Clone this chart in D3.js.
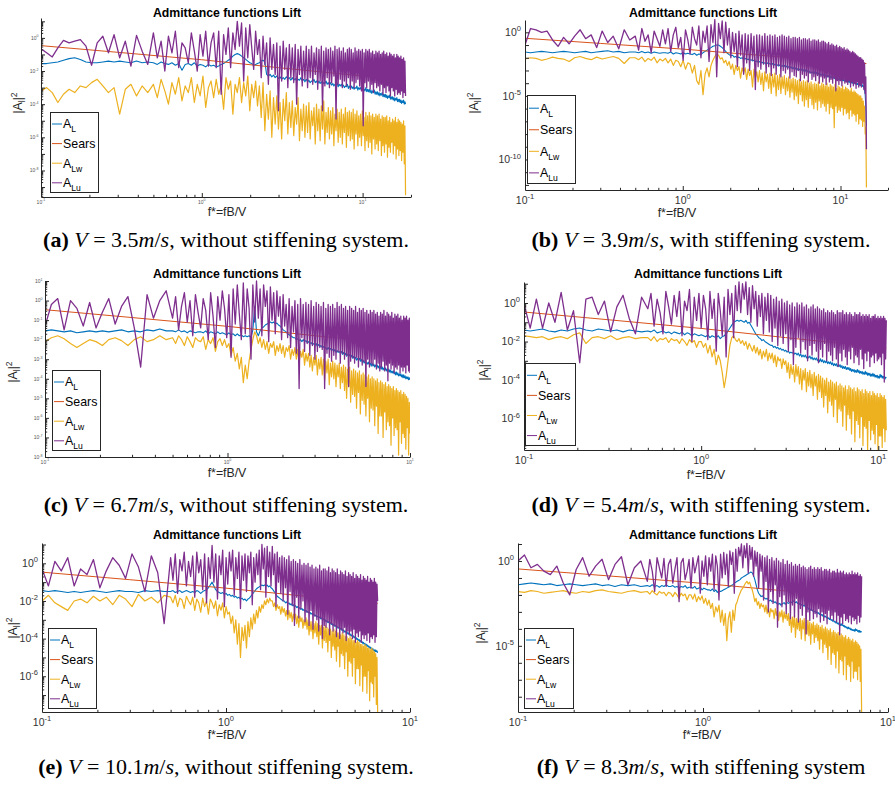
<!DOCTYPE html>
<html>
<head>
<meta charset="utf-8">
<title>Admittance functions Lift</title>
<script src="https://cdn.jsdelivr.net/npm/d3@7"></script>
<style>
  html, body { margin: 0; padding: 0; background: #fff; }
  svg { display: block; }
  text { font-family: "Liberation Sans", Arial, Helvetica, sans-serif; }
  text.cap { font-family: "Liberation Serif", "Times New Roman", serif; }
</style>
</head>
<body>
<svg id="fig" width="895" height="785"></svg>
<script>
// ---------------- data ----------------
const panelKeys  = ["a", "b", "c", "d", "e", "f"];
const windSpeeds = ["3.5", "3.9", "6.7", "5.4", "10.1", "8.3"];
const setups     = ["without stiffening system.", "with stiffening system.",
                    "without stiffening system.", "with stiffening system.",
                    "without stiffening system.", "with stiffening system"];
// highest reduced frequency f* = fB/V of each spectrum
const lastFreq   = [18.5, 14.6, 10, 11.1, 6.67, 7.2];
const legendNames = [["A", "L"], ["Sears", ""], ["A", "Lw"], ["A", "Lu"]];

// Sears function |S|^2 : [f*, value]
const searsA = [[0.1, 0.34], [0.3, 0.135], [1, 0.048], [3, 0.016], [10, 0.005], [18.5, 0.0027]];
const searsB = [[0.1, 0.34], [0.3, 0.135], [1, 0.048], [3, 0.016], [10, 0.005], [14.6, 0.0035]];
const searsC = [[0.1, 0.34], [0.3, 0.135], [1, 0.048], [3, 0.016], [10, 0.005]];
const searsD = [[0.1, 0.34], [0.3, 0.135], [1, 0.048], [3, 0.016], [10, 0.005], [11.1, 0.0045]];
const searsE = [[0.1, 0.34], [0.3, 0.135], [1, 0.048], [3, 0.016], [6.67, 0.0074]];
const searsF = [[0.1, 0.34], [0.3, 0.135], [1, 0.048], [3, 0.016], [7.2, 0.0069]];

// Measured admittances as log10(|A|^2), one value per frequency bin:
// 20 bins on 0.1..0.5, then 180 bins up to the last frequency
const AL_a = [
-1.55,-1.55,-1.5,-1.45,-1.35,-1.25,-1.2,-1.3,-1.45,-1.5,
-1.5,-1.45,-1.4,-1.45,-1.4,-1.45,-1.5,-1.4,-1.5,-1.45,
-1.5,-1.6,-1.45,-1.55,-1.6,-1.5,-1.65,-1.55,-1.95,-1.6,
-1.55,-1.65,-1.5,-1.7,-1.6,-1.65,-1.75,-1.6,-1.7,-1.65,
-1.75,-1.7,-1.6,-1.55,-1.45,-1.35,-1.25,-1.1,-1.0,-0.95,
-1.0,-1.1,-1.2,-1.3,-1.4,-1.5,-1.55,-1.65,-1.6,-1.55,
-1.5,-1.4,-1.35,-1.45,-2.2,-2.3,-2.2,-2.35,-2.25,-2.4,
-2.3,-2.45,-2.35,-2.5,-2.4,-2.5,-2.35,-2.45,-2.4,-2.55,
-2.4,-2.55,-2.45,-2.6,-2.5,-2.55,-2.4,-2.6,-2.5,-2.65,
-2.5,-2.65,-2.55,-2.7,-2.6,-2.65,-2.5,-2.7,-2.6,-2.75,
-2.6,-2.75,-2.65,-2.8,-2.7,-2.75,-2.6,-2.8,-2.7,-2.85,
-2.7,-2.85,-2.75,-2.9,-2.8,-2.85,-2.7,-2.95,-2.8,-2.9,
-2.8,-2.95,-2.85,-3.0,-2.9,-2.95,-2.8,-3.05,-2.9,-3.0,
-2.9,-3.05,-2.95,-3.1,-3.0,-3.05,-2.9,-3.15,-3.0,-3.1,
-3.0,-3.15,-3.05,-3.2,-3.1,-3.2,-3.0,-3.25,-3.1,-3.25,
-3.1,-3.3,-3.15,-3.35,-3.2,-3.3,-3.15,-3.4,-3.25,-3.4,
-3.25,-3.45,-3.3,-3.5,-3.35,-3.45,-3.3,-3.55,-3.4,-3.55,
-3.4,-3.6,-3.45,-3.65,-3.5,-3.6,-3.45,-3.7,-3.55,-3.7,
-3.55,-3.75,-3.6,-3.8,-3.65,-3.75,-3.6,-3.85,-3.7,-3.85,
-3.7,-3.9,-3.75,-3.95,-3.8,-3.9,-3.75,-4.0,-3.85,-4.0];
const ALw_a = [
-3.2,-3.0,-3.3,-3.9,-3.4,-3.1,-3.3,-2.9,-3.0,-2.7,
-2.5,-2.9,-3.3,-3.0,-4.6,-3.1,-2.8,-3.5,-2.9,-3.3,
-2.8,-3.6,-2.5,-3.2,-4.0,-2.7,-3.4,-2.4,-3.8,-2.9,
-3.3,-2.4,-3.9,-2.8,-3.5,-2.3,-4.2,-3.0,-2.6,-3.6,
-2.5,-3.4,-2.9,-4.3,-2.4,-3.1,-2.6,-4.6,-2.8,-3.3,
-2.4,-3.9,-2.7,-3.5,-2.3,-4.4,-2.8,-3.6,-2.6,-4.1,
-2.9,-4.8,-2.7,-5.6,-3.4,-4.9,-3.2,-6.0,-3.6,-5.2,
-3.5,-5.5,-3.9,-6.1,-3.7,-5.0,-3.3,-5.8,-3.9,-5.4,
-3.8,-5.9,-4.2,-5.2,-3.6,-6.2,-4.3,-5.6,-4.0,-6.0,
-4.1,-5.7,-3.9,-6.1,-4.4,-5.3,-4.2,-6.4,-4.0,-5.6,
-4.3,-6.2,-4.1,-5.5,-3.8,-6.4,-4.5,-5.7,-4.2,-6.1,
-4.4,-5.8,-4.2,-6.5,-4.6,-5.6,-4.3,-6.3,-4.5,-6.0,
-4.3,-6.4,-4.6,-5.7,-4.2,-6.6,-4.5,-5.9,-4.4,-6.2,
-4.5,-6.1,-4.3,-6.7,-4.6,-5.8,-4.4,-6.5,-4.7,-6.0,
-4.6,-6.5,-4.4,-5.9,-4.8,-6.8,-4.5,-6.2,-4.7,-6.6,
-4.5,-6.3,-4.7,-7.0,-4.6,-6.1,-4.8,-6.7,-4.6,-6.4,
-4.7,-6.8,-4.6,-6.2,-4.9,-7.1,-4.7,-6.5,-4.8,-6.9,
-4.8,-6.4,-4.7,-7.2,-5.0,-6.6,-4.8,-6.9,-5.1,-6.3,
-4.9,-7.0,-5.0,-6.5,-4.8,-7.3,-5.1,-6.7,-4.9,-7.1,
-5.0,-6.8,-5.1,-7.4,-5.2,-6.9,-5.0,-7.6,-5.3,-9.5];
const ALu_a = [
-0.65,-0.9,-1.15,-0.6,-0.15,-0.3,-0.2,-0.1,-0.5,-1.65,
-0.3,0.1,-0.9,0.2,-1.2,-0.2,-1.7,0.15,-0.8,-1.6,
0.3,-1.2,-0.2,-2.0,0.1,-0.9,0.4,-1.8,-0.3,-0.6,
-1.5,0.3,-0.8,-2.0,0.2,-1.1,0.4,-1.7,-0.3,0.3,
-1.8,0.4,-3.4,0.2,-1.0,0.6,-1.8,0.3,-0.7,1.0,
-0.5,0.9,-2.6,0.6,-1.2,0.8,-0.6,-1.9,0.4,-1.0,
-0.1,-2.4,0.1,-1.6,-0.3,-2.8,0.0,-1.9,-0.4,-2.2,
-0.3,-4.4,-0.5,-2.6,-0.2,-1.9,-0.6,-3.0,-0.4,-2.4,
-0.6,-2.7,-0.4,-4.0,-0.7,-2.2,-0.5,-2.9,-0.8,-2.5,
-0.5,-3.0,-0.7,-2.4,-0.5,-2.8,-0.9,-2.2,-0.6,-3.1,
-0.7,-2.6,-0.5,-4.4,-0.8,-2.9,-0.6,-2.4,-0.7,-3.0,
-0.6,-2.7,-0.8,-2.3,-0.5,-4.9,-0.7,-2.8,-0.6,-2.5,
-0.8,-3.0,-0.6,-2.6,-0.9,-2.9,-0.7,-2.4,-0.6,-3.1,
-0.7,-2.6,-0.9,-3.0,-0.6,-2.7,-0.8,-2.5,-0.7,-2.9,
-0.8,-3.2,-0.7,-5.3,-0.9,-2.7,-0.7,-3.0,-0.8,-2.6,
-0.7,-3.1,-0.9,-2.8,-0.8,-3.3,-1.0,-2.7,-0.8,-3.0,
-0.9,-2.9,-0.8,-3.2,-1.0,-2.8,-0.9,-3.4,-0.8,-3.0,
-1.0,-3.3,-0.9,-2.9,-1.1,-3.2,-0.9,-3.5,-1.0,-3.0,
-1.1,-3.2,-1.0,-3.5,-1.2,-3.1,-1.0,-3.4,-1.1,-3.3,
-1.2,-3.4,-1.1,-3.2,-1.3,-3.6,-1.2,-3.3,-1.4,-3.5];

const AL_b = [
-1.55,-1.6,-1.55,-1.5,-1.55,-1.6,-1.55,-1.5,-1.55,-1.6,
-1.55,-1.5,-1.6,-1.55,-1.5,-1.45,-1.55,-1.5,-1.6,-1.55,
-1.55,-1.6,-1.5,-1.6,-1.55,-1.65,-1.55,-1.6,-1.65,-1.6,
-1.6,-1.65,-1.55,-1.7,-1.6,-1.65,-1.7,-1.6,-1.7,-1.65,
-1.7,-1.75,-1.65,-1.8,-1.7,-1.75,-1.6,-1.5,-1.4,-1.3,
-1.2,-1.1,-1.05,-1.0,-1.0,-1.1,-1.2,-1.35,-1.5,-1.65,
-1.75,-1.85,-1.8,-1.95,-1.9,-2.0,-1.95,-2.05,-2.0,-2.1,
-2.05,-2.15,-2.1,-2.2,-2.15,-2.25,-2.2,-2.3,-2.25,-2.35,
-2.3,-2.4,-2.35,-2.45,-2.4,-2.5,-2.4,-2.5,-2.45,-2.55,
-2.45,-2.6,-2.5,-2.6,-2.55,-2.65,-2.55,-2.7,-2.6,-2.7,
-2.6,-2.75,-2.65,-2.8,-2.7,-2.8,-2.7,-2.85,-2.75,-2.9,
-2.8,-2.95,-2.85,-3.0,-2.9,-3.0,-2.9,-3.05,-2.95,-3.1,
-2.95,-3.1,-3.0,-3.15,-3.05,-3.2,-3.1,-3.2,-3.1,-3.25,
-3.1,-3.3,-3.15,-3.3,-3.2,-3.35,-3.25,-3.4,-3.3,-3.4,
-3.3,-3.45,-3.35,-3.5,-3.4,-3.5,-3.4,-3.55,-3.45,-3.6,
-3.45,-3.6,-3.5,-3.65,-3.55,-3.65,-3.55,-3.7,-3.6,-3.75,
-3.6,-3.75,-3.65,-3.8,-3.7,-3.8,-3.7,-3.85,-3.75,-3.9,
-3.75,-3.9,-3.8,-3.95,-3.85,-3.95,-3.85,-4.0,-3.9,-4.05,
-3.9,-4.05,-3.95,-4.1,-4.0,-4.1,-4.0,-4.15,-4.05,-4.2,
-4.05,-4.2,-4.1,-4.25,-4.2,-4.35,-4.5,-4.9,-5.8,-7.4];
const ALw_b = [
-2.1,-2.0,-2.05,-2.2,-2.1,-1.95,-2.05,-2.1,-2.3,-2.0,
-1.9,-2.05,-2.15,-1.95,-2.1,-2.0,-1.9,-2.05,-2.45,-2.0,
-2.0,-2.15,-1.95,-2.3,-2.05,-2.2,-1.95,-2.4,-2.1,-2.25,
-2.05,-2.4,-2.1,-2.6,-2.2,-2.3,-2.7,-2.2,-2.9,-2.4,
-2.5,-3.2,-2.6,-3.8,-4.1,-3.0,-4.9,-3.3,-2.8,-3.5,
-2.6,-2.2,-1.9,-1.7,-1.8,-2.1,-2.0,-2.4,-2.2,-2.6,
-2.3,-2.9,-2.5,-3.3,-2.6,-3.0,-2.7,-3.6,-2.8,-3.2,
-2.8,-3.7,-2.9,-3.4,-3.0,-4.3,-2.9,-3.6,-3.1,-3.9,
-3.0,-4.1,-3.2,-4.6,-3.1,-3.9,-3.3,-4.4,-3.2,-4.8,
-3.3,-4.3,-3.2,-5.0,-3.4,-4.5,-3.3,-4.8,-3.5,-4.4,
-3.4,-4.9,-3.6,-4.6,-3.5,-5.1,-3.7,-4.7,-3.6,-5.3,
-3.7,-5.0,-3.8,-5.6,-3.7,-4.9,-3.9,-5.4,-3.8,-5.8,
-3.9,-5.3,-3.8,-5.9,-4.0,-5.2,-3.9,-5.7,-4.1,-6.0,
-4.0,-5.5,-4.1,-6.1,-3.9,-5.4,-4.2,-5.9,-4.0,-5.6,
-4.1,-5.8,-4.2,-6.2,-4.0,-5.6,-4.3,-6.4,-4.1,-5.9,
-4.2,-6.0,-4.3,-7.5,-4.1,-5.8,-4.4,-6.3,-4.2,-6.1,
-4.3,-6.2,-4.4,-5.9,-4.2,-6.5,-4.5,-6.0,-4.3,-6.4,
-4.4,-6.3,-4.5,-6.8,-4.6,-6.1,-4.4,-6.6,-4.7,-6.4,
-4.6,-6.5,-4.7,-7.0,-4.8,-6.4,-4.9,-7.2,-5.0,-6.8,
-5.0,-6.9,-5.2,-7.4,-5.4,-7.0,-5.8,-8.0,-7.5,-12.2];
const ALu_b = [
-1.0,0.3,0.2,0.0,0.1,-0.6,-1.1,-0.4,-0.9,-0.3,
0.2,-0.5,-0.2,-1.2,0.1,-0.8,-0.3,-1.3,0.2,-0.6,
-0.3,-1.4,0.3,-0.7,-0.2,-1.6,0.1,-0.5,-1.1,0.2,
-0.9,0.3,-1.5,-0.2,0.4,-1.2,-0.4,-2.2,0.2,-0.6,
-1.7,0.4,-0.5,-1.0,0.5,-2.0,0.1,-0.8,0.5,-2.3,
0.6,-0.8,1.0,-3.5,0.7,-0.5,0.9,-1.6,0.8,-1.0,
0.3,-2.0,0.0,-1.5,-0.1,-2.7,0.1,-1.8,-0.2,-3.3,
-0.1,-2.4,-0.2,-3.0,-0.1,-2.2,-0.3,-4.5,-0.2,-2.7,
-0.2,-2.9,-0.3,-2.5,-0.1,-3.2,-0.3,-2.7,-0.2,-3.4,
-0.3,-2.8,-0.2,-3.3,-0.4,-2.6,-0.3,-3.5,-0.2,-3.0,
-0.3,-3.2,-0.4,-2.9,-0.3,-3.6,-0.5,-3.1,-0.4,-3.4,
-0.4,-3.5,-0.5,-3.0,-0.4,-3.8,-0.6,-3.3,-0.5,-3.6,
-0.5,-3.4,-0.6,-3.9,-0.5,-3.2,-0.7,-3.7,-0.6,-3.5,
-0.6,-3.8,-0.7,-3.4,-0.6,-4.0,-0.8,-3.5,-0.7,-3.9,
-0.7,-3.6,-0.8,-4.1,-0.9,-3.5,-0.8,-3.9,-1.0,-3.7,
-0.9,-4.0,-1.0,-3.6,-1.1,-4.6,-1.0,-3.8,-1.2,-4.1,
-1.1,-3.8,-1.2,-4.2,-1.3,-3.7,-1.2,-4.0,-1.4,-3.9,
-1.3,-4.1,-1.4,-3.8,-1.5,-4.3,-1.6,-3.9,-1.5,-4.2,
-1.6,-4.0,-1.7,-4.4,-1.8,-3.9,-1.9,-4.3,-2.0,-4.1,
-2.0,-4.3,-2.1,-4.0,-2.2,-4.5,-2.4,-4.8,-3.5,-9.2];

const AL_c = [
-1.55,-1.5,-1.55,-1.6,-1.55,-1.65,-1.6,-1.55,-1.6,-1.55,
-1.6,-1.55,-1.5,-1.6,-1.55,-1.6,-1.5,-1.55,-1.45,-1.55,
-1.55,-1.6,-1.5,-1.6,-1.55,-1.65,-1.55,-1.6,-1.65,-1.6,
-1.6,-1.65,-1.55,-1.7,-1.6,-1.65,-1.7,-1.6,-1.7,-1.65,
-1.7,-1.75,-1.65,-1.75,-1.7,-1.8,-1.7,-1.8,-1.75,-1.85,
-1.8,-1.85,-1.8,-1.9,-1.5,-0.3,-1.6,-1.8,-1.55,-1.4,
-1.35,-1.25,-1.2,-1.15,-1.1,-1.15,-1.1,-1.2,-1.15,-1.25,
-1.3,-1.4,-1.5,-1.55,-1.6,-1.7,-1.75,-1.8,-1.85,-1.9,
-1.9,-2.0,-1.95,-2.05,-2.0,-2.1,-2.0,-2.1,-2.05,-2.15,
-2.1,-2.2,-2.15,-2.25,-2.2,-2.3,-2.2,-2.35,-2.25,-2.35,
-2.3,-2.4,-2.35,-2.45,-2.4,-2.5,-2.4,-2.5,-2.45,-2.55,
-2.5,-2.6,-2.5,-2.65,-2.55,-2.65,-2.6,-2.7,-2.6,-2.75,
-2.65,-2.8,-2.7,-2.85,-2.75,-2.85,-2.75,-2.9,-2.8,-2.95,
-2.85,-3.0,-2.9,-3.05,-2.95,-3.05,-2.95,-3.1,-3.0,-3.15,
-3.05,-3.2,-3.1,-3.25,-3.15,-3.25,-3.15,-3.3,-3.2,-3.35,
-3.2,-3.35,-3.25,-3.4,-3.3,-3.4,-3.3,-3.45,-3.35,-3.5,
-3.35,-3.5,-3.4,-3.55,-3.45,-3.55,-3.45,-3.6,-3.5,-3.65,
-3.5,-3.65,-3.55,-3.7,-3.6,-3.7,-3.6,-3.75,-3.65,-3.8,
-3.65,-3.8,-3.7,-3.85,-3.75,-3.85,-3.75,-3.9,-3.8,-3.95,
-3.8,-3.95,-3.85,-4.0,-3.9,-4.0,-3.9,-4.05,-3.95,-4.05];
const ALw_c = [
-2.1,-1.9,-1.8,-1.95,-2.2,-2.4,-2.2,-2.0,-2.1,-2.3,
-2.0,-1.9,-2.05,-2.3,-2.0,-1.85,-2.1,-2.0,-1.8,-2.0,
-1.9,-2.2,-1.8,-2.0,-2.3,-1.85,-2.1,-2.4,-1.9,-2.05,
-2.1,-1.85,-2.5,-2.0,-2.2,-1.9,-2.6,-2.1,-1.95,-2.3,
-2.0,-2.4,-2.2,-2.8,-2.4,-3.1,-2.7,-3.5,-2.9,-4.2,
-3.3,-4.0,-3.1,-2.5,-2.0,-1.6,-1.8,-2.2,-1.9,-2.4,
-2.0,-2.5,-2.1,-2.7,-2.2,-2.4,-2.1,-2.8,-2.3,-2.6,
-2.2,-2.7,-2.3,-2.9,-2.4,-2.6,-2.3,-3.0,-2.5,-2.8,
-2.4,-3.0,-2.5,-3.2,-2.6,-2.9,-2.5,-3.3,-2.7,-3.1,
-2.7,-3.4,-2.8,-3.6,-2.9,-3.3,-2.8,-3.8,-3.0,-3.5,
-2.9,-3.8,-3.0,-4.1,-3.1,-3.7,-3.0,-4.3,-3.2,-3.9,
-3.1,-4.0,-3.2,-4.4,-3.3,-3.9,-3.2,-4.5,-3.4,-4.2,
-3.3,-4.6,-3.4,-5.0,-3.5,-4.4,-3.4,-5.2,-3.6,-4.8,
-3.5,-4.9,-3.6,-5.5,-3.7,-4.7,-3.6,-5.8,-3.8,-5.1,
-3.7,-5.3,-3.8,-5.9,-3.9,-5.0,-3.8,-6.2,-4.0,-5.5,
-3.9,-5.6,-4.0,-6.4,-4.1,-5.4,-4.0,-6.8,-4.2,-5.9,
-4.1,-5.9,-4.2,-7.0,-4.3,-5.7,-4.2,-6.6,-4.4,-6.2,
-4.3,-6.4,-4.4,-7.4,-4.5,-6.0,-4.4,-6.9,-4.6,-6.5,
-4.5,-6.6,-4.6,-7.9,-4.7,-6.2,-4.6,-7.3,-4.8,-6.8,
-4.7,-7.0,-4.8,-7.6,-4.9,-6.5,-5.0,-7.9,-5.2,-6.8];
const ALu_c = [
-1.3,-0.2,0.1,-1.5,0.0,-0.4,-1.3,-0.1,-1.4,-0.6,
0.1,-1.2,-0.3,0.2,-1.4,-3.4,0.3,-0.9,0.0,0.5,
-0.9,0.2,-1.5,-0.3,0.4,-1.1,0.0,-1.8,0.3,-0.6,
-1.4,0.1,-0.5,-2.0,0.4,-0.8,-2.4,0.2,-1.0,0.5,
-0.4,-1.9,0.3,-2.9,0.6,-1.2,0.8,-0.7,-2.0,0.9,
-1.7,0.6,-0.4,-3.0,0.8,-1.1,1.0,-0.9,0.6,-1.8,
0.8,-0.3,0.5,-2.1,0.7,-1.0,0.4,-1.7,0.5,-0.8,
0.2,-2.0,0.3,-1.3,-0.2,-1.9,0.1,-2.4,-0.3,-1.6,
0.0,-2.7,-0.2,-4.5,0.1,-1.9,-0.2,-2.6,-0.1,-2.2,
-0.2,-2.8,0.0,-2.3,-0.3,-3.0,-0.1,-2.6,-0.2,-2.4,
-0.3,-2.5,-0.1,-4.5,-0.4,-2.7,-0.2,-2.9,-0.3,-3.1,
-0.2,-2.8,-0.4,-3.0,-0.1,-2.6,-0.3,-3.2,-0.2,-2.7,
-0.4,-3.0,-0.3,-2.8,-0.5,-4.4,-0.3,-3.1,-0.4,-2.9,
-0.5,-3.2,-0.3,-2.9,-0.6,-3.4,-0.4,-3.0,-0.5,-3.3,
-0.4,-3.1,-0.6,-4.4,-0.5,-3.0,-0.7,-3.4,-0.5,-3.2,
-0.6,-3.3,-0.5,-3.0,-0.7,-3.5,-0.6,-3.2,-0.8,-3.6,
-0.6,-3.4,-0.7,-3.1,-0.5,-3.6,-0.8,-3.3,-0.6,-4.1,
-0.7,-3.2,-0.8,-3.5,-0.6,-3.3,-0.9,-3.7,-0.7,-3.4,
-0.8,-3.5,-0.7,-3.3,-0.9,-3.7,-0.8,-3.4,-1.0,-3.6,
-0.8,-3.4,-0.9,-3.7,-0.8,-3.3,-1.0,-3.6,-0.9,-3.7];

const AL_d = [
-1.4,-1.45,-1.4,-1.35,-1.45,-1.5,-1.4,-1.45,-1.35,-1.3,
-1.4,-1.45,-1.35,-1.4,-1.45,-1.4,-1.5,-1.4,-1.45,-1.5,
-1.45,-1.5,-1.4,-1.55,-1.5,-1.45,-1.55,-1.5,-1.6,-1.5,
-1.55,-1.6,-1.5,-1.65,-1.55,-1.6,-1.7,-1.6,-1.65,-1.7,
-1.65,-1.7,-1.75,-1.65,-1.8,-1.7,-1.75,-1.8,-1.7,-1.85,
-1.75,-1.7,-1.6,-1.45,-1.3,-1.15,-1.0,-0.95,-0.9,-0.95,
-0.9,-0.95,-1.0,-0.9,-1.05,-1.0,-1.15,-1.3,-1.45,-1.6,
-1.7,-1.8,-1.85,-1.95,-1.9,-2.0,-2.05,-2.1,-2.15,-2.2,
-2.2,-2.3,-2.25,-2.35,-2.3,-2.4,-2.35,-2.45,-2.4,-2.5,
-2.45,-2.55,-2.5,-2.6,-2.55,-2.6,-2.55,-2.65,-2.6,-2.7,
-2.6,-2.75,-2.65,-2.8,-2.7,-2.8,-2.7,-2.85,-2.75,-2.85,
-2.75,-2.9,-2.8,-2.95,-2.85,-2.95,-2.85,-3.0,-2.9,-3.05,
-2.9,-3.05,-2.95,-3.1,-3.0,-3.1,-3.0,-3.15,-3.05,-3.15,
-3.05,-3.2,-3.1,-3.25,-3.15,-3.25,-3.15,-3.3,-3.2,-3.3,
-3.2,-3.35,-3.25,-3.4,-3.3,-3.4,-3.3,-3.45,-3.35,-3.45,
-3.35,-3.5,-3.4,-3.55,-3.45,-3.55,-3.45,-3.6,-3.5,-3.6,
-3.45,-3.6,-3.5,-3.65,-3.55,-3.65,-3.55,-3.7,-3.6,-3.7,
-3.55,-3.7,-3.6,-3.75,-3.65,-3.75,-3.65,-3.8,-3.7,-3.8,
-3.65,-3.8,-3.7,-3.85,-3.75,-3.85,-3.75,-3.9,-3.8,-3.9,
-3.7,-3.85,-3.75,-3.9,-3.8,-3.9,-3.8,-3.95,-3.85,-3.9];
const ALw_d = [
-1.7,-1.75,-1.8,-1.75,-1.9,-1.8,-1.75,-1.85,-1.65,-1.55,
-2.1,-1.8,-1.75,-1.85,-1.7,-1.9,-1.8,-1.75,-1.85,-1.8,
-1.8,-1.95,-1.75,-2.0,-1.85,-1.9,-1.8,-2.05,-1.85,-1.95,
-1.9,-2.1,-1.85,-2.0,-2.2,-1.9,-2.05,-1.95,-2.3,-2.0,
-2.0,-2.3,-2.1,-2.6,-2.2,-2.8,-2.4,-3.2,-2.7,-3.0,
-3.6,-4.4,-3.8,-3.0,-2.2,-1.8,-1.7,-1.9,-2.0,-1.85,
-2.1,-1.95,-2.2,-2.0,-2.4,-2.1,-2.3,-2.5,-2.2,-2.6,
-2.3,-2.7,-2.4,-2.9,-2.5,-2.8,-2.4,-3.0,-2.6,-2.9,
-2.6,-3.1,-2.7,-3.3,-2.8,-3.0,-2.9,-3.4,-2.9,-3.2,
-3.0,-3.6,-3.1,-3.9,-3.2,-3.7,-3.3,-4.1,-3.2,-3.8,
-3.3,-4.2,-3.4,-4.5,-3.5,-4.0,-3.4,-4.6,-3.6,-4.3,
-3.5,-4.4,-3.7,-4.8,-3.6,-4.3,-3.8,-5.0,-3.7,-4.6,
-3.8,-4.9,-3.9,-5.4,-4.0,-4.8,-3.9,-5.7,-4.1,-5.1,
-4.0,-5.3,-4.1,-5.9,-4.2,-5.0,-4.1,-6.2,-4.3,-5.5,
-4.2,-5.6,-4.3,-6.4,-4.4,-5.3,-4.3,-6.6,-4.5,-5.8,
-4.3,-6.0,-4.4,-6.8,-4.5,-5.6,-4.4,-7.2,-4.6,-6.1,
-4.4,-6.3,-4.5,-7.0,-4.6,-5.9,-4.5,-7.4,-4.7,-6.4,
-4.5,-6.5,-4.6,-7.7,-4.7,-6.1,-4.6,-7.1,-4.8,-6.6,
-4.6,-6.8,-4.7,-7.3,-4.8,-6.3,-4.7,-7.6,-4.9,-6.9,
-4.7,-6.9,-4.8,-7.5,-4.9,-6.5,-4.8,-7.2,-5.0,-6.6];
const ALu_d = [
-0.05,-1.3,0.2,-1.3,0.0,-1.0,0.55,-1.4,-0.4,-3.1,
0.2,0.3,-0.6,0.1,-1.5,-0.2,0.4,-0.8,-1.6,0.3,
-0.3,0.5,-1.2,0.2,-0.5,-1.6,0.6,-0.2,-1.1,0.4,
-0.7,0.6,-1.7,0.1,-0.4,0.7,-2.0,0.3,-0.9,0.5,
-1.3,0.4,-0.3,-1.9,0.6,-0.8,0.2,-2.5,0.5,-0.4,
-1.7,0.3,-2.8,0.7,-0.6,0.5,-1.8,0.9,-0.4,1.1,
-0.5,1.0,0.2,1.1,-0.6,0.8,-1.0,0.9,-0.3,0.6,
-1.2,0.4,-0.7,0.5,-1.6,0.3,-0.9,0.5,-1.5,0.4,
-2.0,0.2,-1.3,0.3,-2.2,0.1,-1.7,0.2,-2.1,0.0,
-1.6,0.1,-2.5,-0.1,-1.9,0.0,-3.2,-0.2,-2.3,0.0,
-1.8,-0.1,-2.6,0.0,-2.0,-0.2,-2.4,-0.1,-3.0,-0.3,
-2.2,-0.2,-2.7,-0.1,-2.1,-0.3,-2.5,-0.2,-3.1,-0.3,
-2.4,-0.4,-2.8,-0.3,-2.1,-0.5,-3.0,-0.4,-2.5,-0.5,
-2.7,-0.4,-3.0,-0.5,-2.3,-0.6,-2.9,-0.4,-3.3,-0.5,
-2.6,-0.5,-3.0,-0.4,-2.4,-0.6,-2.8,-0.5,-3.2,-0.6,
-2.5,-0.5,-2.9,-0.6,-2.3,-0.7,-3.1,-0.5,-2.7,-0.6,
-2.8,-0.6,-3.2,-0.5,-2.4,-0.7,-2.9,-0.6,-3.4,-0.7,
-2.6,-0.6,-3.0,-0.7,-2.5,-0.6,-3.3,-0.8,-2.8,-0.7,
-2.7,-0.7,-3.1,-0.6,-2.6,-0.8,-3.0,-0.7,-2.9,-0.8,
-2.8,-0.7,-3.2,-0.8,-2.6,-0.7,-4.1,-0.8,-2.9,-0.9];

const AL_e = [
-1.45,-1.5,-1.45,-1.5,-1.55,-1.5,-1.55,-1.5,-1.45,-1.5,
-1.55,-1.5,-1.45,-1.5,-1.5,-1.55,-1.45,-1.5,-1.45,-1.5,
-1.5,-1.45,-1.55,-1.5,-1.45,-1.55,-1.5,-1.45,-1.5,-1.55,
-1.5,-1.55,-1.45,-1.5,-1.6,-1.5,-1.45,-1.4,-1.3,-1.15,
-1.0,-1.2,-1.4,-1.5,-1.55,-1.6,-1.55,-1.65,-1.6,-1.7,
-1.65,-1.75,-1.7,-1.8,-1.75,-1.85,-1.8,-1.9,-1.85,-1.95,
-1.9,-2.0,-1.9,-1.85,-1.75,-1.65,-1.55,-1.45,-1.35,-1.3,
-1.25,-1.2,-1.15,-1.2,-1.15,-1.2,-1.15,-1.25,-1.2,-1.3,
-1.35,-1.45,-1.55,-1.65,-1.75,-1.8,-1.85,-1.9,-1.95,-2.0,
-2.0,-2.1,-2.05,-2.15,-2.1,-2.2,-2.15,-2.25,-2.2,-2.3,
-2.25,-2.35,-2.3,-2.4,-2.35,-2.45,-2.4,-2.5,-2.45,-2.55,
-2.5,-2.6,-2.55,-2.65,-2.6,-2.7,-2.65,-2.75,-2.7,-2.8,
-2.75,-2.85,-2.8,-2.9,-2.85,-2.95,-2.9,-3.0,-2.95,-3.05,
-3.0,-3.1,-3.05,-3.15,-3.1,-3.2,-3.15,-3.25,-3.2,-3.3,
-3.25,-3.35,-3.3,-3.4,-3.35,-3.45,-3.4,-3.5,-3.45,-3.55,
-3.5,-3.6,-3.55,-3.65,-3.6,-3.7,-3.65,-3.75,-3.7,-3.8,
-3.75,-3.85,-3.8,-3.9,-3.85,-3.95,-3.9,-4.0,-3.95,-4.05,
-4.0,-4.1,-4.05,-4.15,-4.1,-4.2,-4.15,-4.25,-4.2,-4.3,
-4.25,-4.35,-4.3,-4.4,-4.35,-4.45,-4.4,-4.5,-4.45,-4.55,
-4.5,-4.6,-4.55,-4.65,-4.6,-4.7,-4.6,-4.7,-4.65,-4.75];
const ALw_e = [
-2.0,-1.7,-2.1,-2.3,-2.5,-2.0,-1.9,-2.1,-1.75,-2.0,
-1.8,-2.2,-1.7,-1.9,-2.3,-1.65,-2.0,-1.8,-2.1,-1.7,
-1.8,-2.1,-1.7,-2.3,-1.85,-1.95,-2.4,-1.75,-2.0,-2.2,
-1.8,-2.5,-1.9,-2.1,-2.6,-1.85,-2.3,-2.0,-2.7,-1.9,
-2.1,-2.4,-2.0,-2.8,-2.2,-2.5,-2.1,-2.9,-2.3,-2.7,
-2.6,-3.2,-2.8,-3.7,-3.0,-4.3,-3.2,-5.0,-3.4,-4.1,
-3.3,-4.5,-3.1,-3.9,-2.9,-3.5,-2.7,-3.2,-2.5,-2.9,
-2.3,-2.6,-2.2,-2.4,-2.0,-2.2,-1.9,-2.1,-1.85,-2.0,
-2.0,-2.3,-2.1,-2.5,-2.2,-2.4,-2.3,-2.7,-2.3,-2.6,
-2.4,-2.8,-2.5,-3.0,-2.5,-2.9,-2.6,-3.1,-2.7,-3.0,
-2.7,-3.2,-2.8,-3.4,-2.8,-3.1,-2.9,-3.45,-3.0,-3.3,
-2.9,-3.5,-3.0,-3.8,-3.1,-3.6,-3.1,-4.0,-3.2,-3.7,
-3.1,-3.9,-3.2,-4.3,-3.3,-3.8,-3.3,-4.5,-3.4,-4.1,
-3.3,-4.2,-3.4,-4.7,-3.5,-4.1,-3.5,-5.0,-3.6,-4.4,
-3.5,-4.6,-3.6,-5.2,-3.7,-4.4,-3.7,-5.5,-3.8,-4.8,
-3.7,-4.9,-3.8,-5.6,-3.9,-4.7,-3.9,-6.0,-4.0,-5.2,
-3.9,-5.3,-4.0,-6.0,-4.1,-5.0,-4.1,-6.4,-4.2,-5.6,
-4.1,-5.6,-4.2,-6.5,-4.3,-5.4,-4.3,-6.8,-4.4,-6.0,
-4.3,-6.0,-4.4,-6.9,-4.5,-5.7,-4.5,-7.3,-4.6,-6.3,
-4.5,-6.4,-4.6,-7.1,-4.7,-6.0,-4.8,-7.5,-5.0,-7.9];
const ALu_e = [
-0.3,-1.2,0.1,-0.4,0.3,-1.2,-0.3,-0.6,0.2,-1.3,
-0.4,0.3,-0.1,-0.8,0.5,-0.2,-1.5,0.4,-0.5,-3.2,
0.3,-0.9,0.5,-1.6,0.2,-0.4,0.6,-1.2,0.1,-0.7,
0.4,-1.8,0.6,-0.5,0.2,-1.4,0.5,-2.1,0.3,-0.8,
0.95,-1.0,0.5,-1.9,0.4,-0.6,0.7,-2.3,0.3,-1.1,
0.6,-0.4,0.7,-1.7,0.3,-0.8,0.6,-2.4,0.4,-0.9,
0.5,-1.5,0.4,-0.5,0.6,-2.2,0.3,-1.0,0.5,-0.6,
0.7,-1.4,1.0,-0.3,0.8,-1.8,0.9,-0.7,0.6,-1.2,
0.9,-0.6,0.5,-2.3,0.6,-1.0,0.3,-1.6,0.4,-2.0,
0.3,-1.3,0.2,-2.7,0.4,-1.5,0.1,-2.2,0.2,-3.3,
0.1,-1.8,0.0,-2.9,0.2,-2.4,-0.1,-2.0,0.0,-3.1,
-0.1,-2.6,0.0,-3.3,-0.2,-2.5,-0.1,-3.5,-0.3,-2.8,
-0.2,-3.0,-0.3,-3.6,-0.1,-2.9,-0.4,-4.0,-0.3,-3.3,
-0.3,-3.4,-0.4,-3.1,-0.2,-3.8,-0.5,-3.2,-0.3,-3.6,
-0.4,-3.3,-0.5,-3.9,-0.3,-3.4,-0.6,-4.0,-0.4,-3.5,
-0.5,-3.7,-0.6,-3.4,-0.4,-4.1,-0.7,-3.6,-0.5,-3.8,
-0.6,-3.6,-0.7,-4.0,-0.5,-3.5,-0.8,-4.2,-0.6,-3.7,
-0.7,-3.9,-0.8,-3.6,-0.6,-4.2,-0.9,-3.8,-0.7,-4.0,
-0.8,-3.8,-0.9,-4.1,-0.7,-3.7,-1.0,-4.2,-0.8,-3.9,
-0.9,-4.0,-1.0,-3.8,-0.8,-4.2,-1.0,-3.9,-1.1,-2.0];

const AL_f = [
-1.4,-1.35,-1.3,-1.35,-1.4,-1.35,-1.45,-1.4,-1.35,-1.4,
-1.45,-1.4,-1.35,-1.45,-1.4,-1.5,-1.4,-1.45,-1.4,-1.5,
-1.45,-1.5,-1.4,-1.5,-1.45,-1.55,-1.45,-1.5,-1.4,-1.5,
-1.5,-1.45,-1.55,-1.5,-1.6,-1.5,-1.55,-1.45,-1.6,-1.55,
-1.55,-1.6,-1.5,-1.65,-1.6,-1.55,-1.7,-1.6,-1.65,-1.7,
-1.7,-1.75,-1.65,-1.8,-1.7,-1.85,-1.75,-1.8,-1.75,-1.7,
-1.65,-1.6,-1.55,-1.5,-1.45,-1.4,-1.3,-1.25,-1.2,-1.15,
-1.1,-1.0,-0.95,-0.9,-0.85,-0.8,-0.75,-0.7,-0.65,-0.7,
-0.85,-1.1,-1.4,-1.7,-1.9,-2.0,-2.1,-2.05,-2.15,-2.2,
-2.25,-2.2,-2.3,-2.35,-2.3,-2.4,-2.35,-2.45,-2.4,-2.5,
-2.45,-2.55,-2.5,-2.6,-2.55,-2.5,-2.45,-2.55,-2.5,-2.45,
-2.5,-2.45,-2.4,-2.45,-2.4,-2.35,-2.4,-2.45,-2.4,-2.5,
-2.45,-2.55,-2.5,-2.6,-2.55,-2.65,-2.6,-2.7,-2.65,-2.75,
-2.75,-2.85,-2.8,-2.9,-2.85,-2.95,-2.9,-3.0,-2.95,-3.05,
-3.0,-3.1,-3.05,-3.15,-3.1,-3.2,-3.15,-3.25,-3.2,-3.3,
-3.25,-3.35,-3.3,-3.4,-3.35,-3.45,-3.4,-3.5,-3.45,-3.55,
-3.5,-3.6,-3.55,-3.65,-3.6,-3.7,-3.65,-3.75,-3.7,-3.8,
-3.7,-3.8,-3.75,-3.85,-3.8,-3.9,-3.85,-3.95,-3.9,-4.0,
-3.9,-4.0,-3.95,-4.05,-4.0,-4.1,-4.05,-4.1,-4.05,-4.15,
-4.0,-4.1,-4.05,-4.15,-4.1,-4.2,-4.1,-4.2,-4.15,-4.2];
const ALw_f = [
-1.8,-1.85,-1.75,-1.8,-1.9,-1.85,-1.8,-1.75,-1.85,-1.9,
-1.8,-1.85,-1.75,-1.7,-1.8,-1.85,-1.9,-1.8,-1.75,-1.85,
-1.8,-1.95,-1.75,-1.9,-2.0,-1.8,-1.9,-1.85,-2.05,-1.85,
-1.9,-2.1,-1.85,-2.0,-2.2,-1.9,-2.05,-1.95,-2.3,-2.0,
-2.0,-2.25,-1.95,-2.4,-2.1,-2.3,-2.05,-2.5,-2.2,-2.6,
-2.3,-2.8,-2.5,-3.3,-2.7,-3.0,-2.6,-3.6,-2.9,-3.8,
-3.1,-4.7,-3.4,-3.0,-4.2,-2.9,-3.5,-2.6,-2.4,-2.1,
-1.9,-1.7,-1.6,-1.45,-1.3,-1.2,-1.35,-1.25,-1.5,-1.7,
-2.0,-2.4,-2.2,-2.6,-2.4,-2.8,-2.5,-2.7,-2.6,-3.0,
-2.6,-3.1,-2.7,-3.3,-2.8,-3.0,-2.9,-3.4,-2.8,-3.2,
-2.9,-3.5,-3.0,-3.3,-2.9,-3.6,-3.0,-3.4,-3.1,-3.5,
-3.1,-3.8,-3.2,-4.2,-3.3,-3.9,-3.2,-4.5,-3.4,-4.0,
-3.3,-4.1,-3.4,-4.6,-3.5,-4.0,-3.4,-4.7,-3.6,-4.3,
-3.5,-4.4,-3.6,-4.9,-3.7,-4.3,-3.6,-4.8,-3.8,-4.5,
-3.7,-4.7,-3.8,-5.2,-3.9,-4.6,-3.8,-5.4,-4.0,-4.9,
-3.9,-5.1,-4.0,-5.8,-4.1,-5.0,-4.0,-6.1,-4.2,-5.4,
-4.1,-5.5,-4.2,-6.3,-4.3,-5.3,-4.2,-6.6,-4.4,-5.8,
-4.3,-5.9,-4.4,-6.7,-4.5,-5.6,-4.4,-7.0,-4.6,-6.1,
-4.5,-6.2,-4.6,-7.1,-4.7,-5.9,-4.6,-6.9,-4.8,-6.5,
-4.7,-6.5,-4.8,-7.0,-4.9,-6.2,-5.0,-7.1,-5.2,-8.9];
const ALu_f = [
0.0,0.35,-0.4,-0.2,-0.6,-0.8,-0.3,-1.3,-2.0,-0.5,
0.2,-0.9,-0.3,0.1,-1.1,-0.2,0.25,-1.4,-0.4,0.0,
-1.2,0.1,-0.6,-1.8,0.2,-0.4,-1.0,0.15,-1.5,-0.2,
0.1,-1.3,-0.5,0.2,-2.4,-0.1,0.15,-1.1,-0.6,0.1,
-1.6,0.2,-0.7,-0.2,0.3,-1.9,0.0,-0.9,0.3,-1.4,
0.2,-0.6,0.4,-1.7,0.3,-0.3,-2.3,0.4,-1.0,0.5,
-0.8,0.4,-1.5,0.6,-0.2,0.5,-1.9,0.7,-0.6,0.8,
0.3,1.0,-0.4,0.9,0.2,1.04,-0.7,0.9,0.1,0.8,
-0.9,0.6,-0.3,0.5,-1.6,0.4,-0.6,0.3,-2.3,0.2,
-1.2,0.3,-3.0,0.1,-1.8,0.2,-2.5,0.0,-1.4,0.15,
-3.9,0.0,-2.1,-0.1,-2.7,0.1,-2.0,-0.2,-3.1,0.0,
-2.4,-0.2,-3.4,-0.1,-2.6,-0.3,-3.3,-0.2,-2.2,-0.3,
-3.6,-0.2,-2.8,-0.4,-3.2,-0.3,-2.6,-0.4,-4.3,-0.5,
-3.0,-0.4,-3.5,-0.3,-2.9,-0.5,-3.4,-0.4,-3.1,-0.5,
-3.3,-0.4,-2.8,-0.5,-3.6,-0.4,-3.0,-0.6,-3.5,-0.5,
-3.1,-0.5,-3.7,-0.6,-2.9,-0.5,-3.4,-0.7,-3.2,-0.6,
-3.5,-0.6,-3.0,-0.7,-3.6,-0.5,-3.2,-0.7,-4.35,-0.6,
-3.3,-0.7,-3.7,-0.6,-3.1,-0.8,-3.5,-0.7,-3.4,-0.8,
-3.6,-0.7,-3.2,-0.8,-3.7,-0.6,-3.3,-0.8,-3.5,-0.7,
-3.4,-0.8,-3.7,-0.7,-3.2,-0.9,-3.6,-0.8,-3.3,-0.9];

const panelSeries = [
  [AL_a, searsA, ALw_a, ALu_a],
  [AL_b, searsB, ALw_b, ALu_b],
  [AL_c, searsC, ALw_c, ALu_c],
  [AL_d, searsD, ALw_d, ALu_d],
  [AL_e, searsE, ALw_e, ALu_e],
  [AL_f, searsF, ALw_f, ALu_f]
];

// ---------------- layout ----------------
const lineColors = ["#0072BD", "#D95319", "#EDB120", "#7E2F8E"];
const lineWidths = [1.1, 1, 1.2, 1.3];
const axisColor = "#262626";
const layout = [
  { left: 41,  top: 18,  right: 411, bottom: 197, xMax: 20,   yLo: -9.6,  yHi: 1.2,  yLab: [0,-2,-4,-6,-8], minorY: true,  tiny: true,
    titleX: 227, titleY: 16.7, xlabX: 227, xlabY: 216, ylabX: 22, ylabY: 103, legend: [50, 112, 48, 80], capX: 226, capY: 247 },
  { left: 525, top: 20,  right: 888, bottom: 190, xMax: 20,   yLo: -12.4, yHi: 0.97, yLab: [0,-5,-10], minorY: false, tiny: false,
    titleX: 703, titleY: 16.7, xlabX: 677, xlabY: 217, ylabX: 478, ylabY: 103, legend: [527, 95, 48, 88], capX: 701, capY: 247 },
  { left: 45,  top: 281, right: 410, bottom: 457, xMax: 10,   yLo: -8,    yHi: 1,    yLab: [1,0,-1,-2,-3,-4,-5,-6,-7,-8], minorY: true, tiny: true,
    titleX: 227, titleY: 277.7, xlabX: 227, xlabY: 477, ylabX: 17, ylabY: 372, legend: [52, 370, 48, 80], capX: 226, capY: 512 },
  { left: 524, top: 282, right: 887, bottom: 450, xMax: 11.2, yLo: -7.63, yHi: 1.09, yLab: [0,-2,-4,-6], minorY: true, tiny: false,
    titleX: 708, titleY: 277.7, xlabX: 706, xlabY: 479, ylabX: 488, ylabY: 370, legend: [525, 363, 50, 82], capX: 701, capY: 512 },
  { left: 42,  top: 543, right: 410, bottom: 712, xMax: 10,   yLo: -7.9,  yHi: 1.08, yLab: [0,-2,-4,-6], minorY: true, tiny: false,
    titleX: 227, titleY: 539, xlabX: 227, xlabY: 739, ylabX: 17, ylabY: 628, legend: [48, 628, 48, 80], capX: 226, capY: 774 },
  { left: 518, top: 543, right: 888, bottom: 712, xMax: 10,   yLo: -8.9,  yHi: 1.06, yLab: [0,-5], minorY: false, tiny: false,
    titleX: 703, titleY: 539, xlabX: 702, xlabY: 739, ylabX: 485, ylabY: 633, legend: [524, 628, 49, 80], capX: 701, capY: 774 }
];

// frequency bins of one spectrum: log-spaced below 0.5, then evenly spaced in sqrt(f)
function freqBins(fEnd) {
  const low = d3.range(20).map(i => 0.1 * Math.pow(5, i / 20));
  const s0 = Math.sqrt(0.5), s1 = Math.sqrt(fEnd);
  const high = d3.range(180).map(j => { const s = s0 + j * (s1 - s0) / 179; return s * s; });
  return low.concat(high);
}

// "10" with a raised exponent
function powerLabel(g, x, y, exp, size, anchor, color) {
  const t = g.append("text").attr("x", x).attr("y", y)
    .attr("text-anchor", anchor).attr("font-size", size).attr("fill", color);
  t.append("tspan").text("10");
  t.append("tspan").attr("dy", -size * 0.45).attr("font-size", size * 0.72).text(String(exp));
  return t;
}

const svg = d3.select("#fig");
const defs = svg.append("defs");

layout.forEach((p, k) => {
  const g = svg.append("g");
  const x = d3.scaleLog().domain([0.1, p.xMax]).range([p.left, p.right]);
  const y = d3.scaleLog().domain([Math.pow(10, p.yLo), Math.pow(10, p.yHi)]).range([p.bottom, p.top]);

  defs.append("clipPath").attr("id", "clip" + k).append("rect")
    .attr("x", p.left).attr("y", p.top - 1)
    .attr("width", p.right - p.left).attr("height", p.bottom - p.top + 1);

  // curves: A_L, Sears, A_Lw, A_Lu (last on top)
  const freqs = freqBins(lastFreq[k]);
  const line = d3.line().x(d => x(d[0])).y(d => y(d[1]));
  const plot = g.append("g").attr("clip-path", `url(#clip${k})`);
  panelSeries[k].forEach((s, i) => {
    const pts = (i === 1) ? s : s.map((v, j) => [freqs[j], Math.pow(10, v)]);
    plot.append("path").datum(pts).attr("d", line)
      .attr("fill", "none").attr("stroke", lineColors[i])
      .attr("stroke-width", lineWidths[i]).attr("stroke-linejoin", "round");
  });

  // x axis
  const xMajor = [0.1, 1, 10].filter(v => v <= p.xMax * 1.0001);
  const xMinor = [];
  [0.1, 1, 10].forEach(d => { for (let m = 2; m <= 9; m++) if (m * d <= p.xMax * 1.0001) xMinor.push(m * d); });
  const gx = g.append("g").attr("transform", `translate(0,${p.bottom})`);
  gx.call(d3.axisBottom(x).tickValues(xMajor).tickSize(-4).tickSizeOuter(0).tickFormat(""));
  gx.append("g").call(d3.axisBottom(x).tickValues(xMinor).tickSize(-2.2).tickSizeOuter(0).tickFormat(""))
    .select(".domain").remove();
  gx.selectAll("line, path").attr("stroke", axisColor);

  // y axis
  const yMajor = d3.range(Math.ceil(p.yLo), Math.floor(p.yHi) + 1).map(e => Math.pow(10, e));
  const yMinor = [];
  if (p.minorY) {
    d3.range(Math.floor(p.yLo), Math.floor(p.yHi) + 1).forEach(e => {
      for (let m = 2; m <= 9; m++) {
        const v = m * Math.pow(10, e);
        if (Math.log10(v) >= p.yLo && Math.log10(v) <= p.yHi) yMinor.push(v);
      }
    });
  }
  const gy = g.append("g").attr("transform", `translate(${p.left},0)`);
  gy.call(d3.axisLeft(y).tickValues(yMajor).tickSize(-4).tickSizeOuter(0).tickFormat(""));
  if (yMinor.length) {
    gy.append("g").call(d3.axisLeft(y).tickValues(yMinor).tickSize(-2.2).tickSizeOuter(0).tickFormat(""))
      .select(".domain").remove();
  }
  gy.selectAll("line, path").attr("stroke", axisColor);

  // tick labels
  const ls = p.tiny ? 5 : 10.5;
  const lc = p.tiny ? "#555" : "#333";
  xMajor.forEach(v => powerLabel(g, x(v), p.bottom + (p.tiny ? 6.5 : 14), Math.round(Math.log10(v)), ls, "middle", lc));
  p.yLab.forEach(e => powerLabel(g, p.left - (p.tiny ? 2.5 : 4), y(Math.pow(10, e)) + ls * 0.36, e, ls, "end", lc));

  // title and axis labels
  g.append("text").attr("x", p.titleX).attr("y", p.titleY).attr("text-anchor", "middle")
    .attr("font-size", 12.3).attr("font-weight", "bold").attr("fill", "#000")
    .text("Admittance functions Lift");
  g.append("text").attr("x", p.xlabX).attr("y", p.xlabY).attr("text-anchor", "middle")
    .attr("font-size", 12.3).attr("fill", axisColor).text("f*=fB/V");
  const yl = g.append("text").attr("text-anchor", "middle").attr("font-size", 12.3).attr("fill", axisColor)
    .attr("transform", `translate(${p.ylabX},${p.ylabY}) rotate(-90)`);
  yl.append("tspan").text("|A");
  yl.append("tspan").attr("dy", 3).attr("font-size", 8.5).text("l");
  yl.append("tspan").attr("dy", -3).text("|");
  yl.append("tspan").attr("dy", -5).attr("font-size", 8.5).text("2");

  // legend
  const [lx, ly, lw, lh] = p.legend;
  const lg = g.append("g");
  lg.append("rect").attr("x", lx + 0.5).attr("y", ly + 0.5).attr("width", lw).attr("height", lh)
    .attr("fill", "#fff").attr("stroke", axisColor).attr("stroke-width", 1);
  legendNames.forEach((nm, i) => {
    const cy = ly + lh * (0.15 + i * 0.245);
    lg.append("line").attr("x1", lx + 2).attr("x2", lx + 12).attr("y1", cy).attr("y2", cy)
      .attr("stroke", lineColors[i]).attr("stroke-width", 1);
    const t = lg.append("text").attr("x", lx + 13).attr("y", cy + 4.3)
      .attr("font-size", 12.4).attr("fill", "#000");
    t.append("tspan").text(nm[0]);
    if (nm[1]) t.append("tspan").attr("dy", 4).attr("font-size", 8.6).text(nm[1]);
  });

  // caption
  const c = svg.append("text").attr("class", "cap").attr("x", p.capX).attr("y", p.capY)
    .attr("text-anchor", "middle").attr("font-size", 22).attr("fill", "#000");
  c.append("tspan").attr("font-weight", "bold").text("(" + panelKeys[k] + ")");
  c.append("tspan").text("\u00a0");
  c.append("tspan").attr("font-style", "italic").text("V");
  c.append("tspan").text("\u00a0=\u00a0" + windSpeeds[k]);
  c.append("tspan").attr("font-style", "italic").text("m");
  c.append("tspan").text("/");
  c.append("tspan").attr("font-style", "italic").text("s");
  c.append("tspan").text(", " + setups[k]);
});
</script>
</body>
</html>
